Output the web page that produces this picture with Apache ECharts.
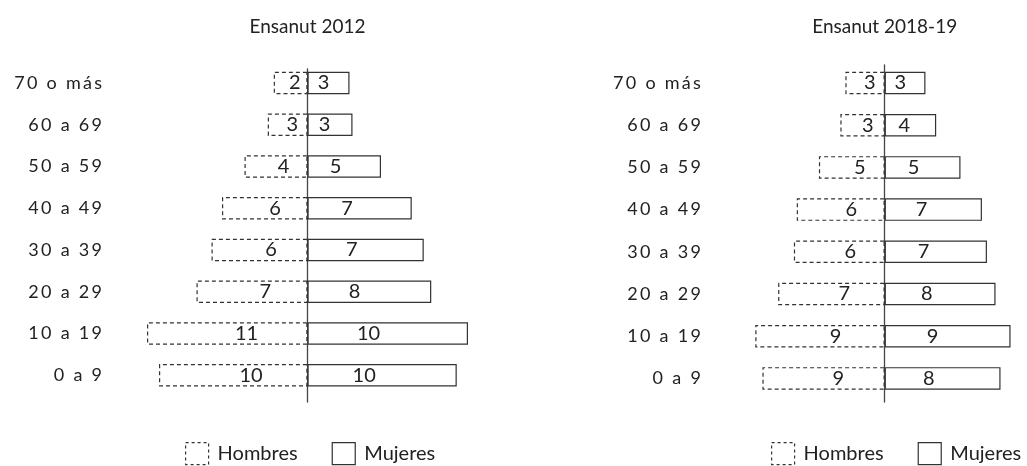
<!DOCTYPE html>
<html><head><meta charset="utf-8">
<script src="https://cdn.jsdelivr.net/npm/echarts@6/dist/echarts.min.js"></script>
<style>html,body{margin:0;padding:0;background:#fff}#c{width:1027px;height:466px}</style>
</head><body><div id="c"></div>
<script>
// ---- data ----
const categories = ['0 a 9','10 a 19','20 a 29','30 a 39','40 a 49','50 a 59','60 a 69','70 o más'];
const titles = ['Ensanut 2012','Ensanut 2018-19'];
const seriesNames = ['Hombres','Mujeres'];
const hombres2012 = [9.9, 10.7, 7.4, 6.4, 5.7, 4.2, 2.65, 2.25];
const mujeres2012 = [9.95, 10.7, 8.25, 7.75, 6.95, 4.9, 3.0, 2.8];
const hombres2012Labels = [10, 11, 7, 6, 6, 4, 3, 2];
const mujeres2012Labels = [10, 10, 8, 7, 7, 5, 3, 3];
const hombres2018 = [8.55, 9.05, 7.45, 6.35, 6.15, 4.6, 3.1, 2.75];
const mujeres2018 = [8.1, 8.8, 7.75, 7.15, 6.8, 5.3, 3.6, 2.85];
const hombres2018Labels = [9, 9, 7, 6, 6, 5, 3, 3];
const mujeres2018Labels = [8, 9, 8, 7, 7, 5, 4, 3];

// ---- layout / style ----
const FONT = 'Lato';
const TXT = '#222';
const EDGE = '#333';
const charts = [
  {title: titles[0], h: hombres2012, m: mujeres2012, hl: hombres2012Labels, ml: mujeres2012Labels,
   left: 142.5, width: 330, min: -11, max: 11, top: 62.1, height: 334, lineTop: 69, lineH: 333, margin: 40.5, center: 307.5, legendLeft: 185},
  {title: titles[1], h: hombres2018, m: mujeres2018, hl: hombres2018Labels, ml: mujeres2018Labels,
   left: 748.85, width: 271.7, min: -9.5, max: 9.5, top: 61.9, height: 337.6, lineTop: 65, lineH: 337, margin: 48, center: 884.7, legendLeft: 771}
];

function spaced(v){
  return v.split(' ').map(w => w.split('').join('\u2009')).join('  ');
}

const grid = [], xAxis = [], yAxis = [], series = [], title = [], legend = [];
charts.forEach((c, i) => {
  const g = grid.length;
  grid.push({left: c.left, width: c.width, top: c.top, height: c.height, containLabel: false});
  grid.push({left: c.left, width: c.width, top: c.lineTop, height: c.lineH, containLabel: false});
  xAxis.push({gridIndex: g, type: 'value', min: c.min, max: c.max, show: false});
  xAxis.push({gridIndex: g + 1, type: 'value', min: c.min, max: c.max, show: false});
  yAxis.push({gridIndex: g, type: 'category', data: categories,
    axisLine: {show: false}, axisTick: {show: false},
    axisLabel: {margin: c.margin, fontSize: 18, fontFamily: FONT, color: TXT, formatter: spaced}});
  yAxis.push({gridIndex: g + 1, type: 'value', min: 0, max: 1,
    axisLine: {show: true, onZero: true, lineStyle: {color: '#444', width: 1.3}},
    axisTick: {show: false}, axisLabel: {show: false}, splitLine: {show: false}});
  const labelBase = {show: true, align: 'center', verticalAlign: 'middle', fontSize: 20, fontFamily: FONT, color: TXT};
  series.push({
    name: seriesNames[0], type: 'bar', xAxisIndex: g, yAxisIndex: g,
    data: c.h.map(v => -v), barWidth: 22.5, barGap: '-100%',
    itemStyle: {color: '#fff', borderColor: EDGE, borderWidth: 1.2, borderType: [4, 3]},
    label: Object.assign({position: ['62%', '50%'], formatter: p => String(c.hl[p.dataIndex])}, labelBase),
    emphasis: {disabled: true}, animation: false
  });
  series.push({
    name: seriesNames[1], type: 'bar', xAxisIndex: g, yAxisIndex: g,
    data: c.m.slice(), barWidth: 22.5, barGap: '-100%',
    itemStyle: {color: '#fff', borderColor: EDGE, borderWidth: 1.2},
    label: Object.assign({position: ['38%', '50%'], formatter: p => String(c.ml[p.dataIndex])}, labelBase),
    emphasis: {disabled: true}, animation: false
  });
  title.push({text: c.title, left: c.center - 5, top: 12, textAlign: 'center',
    textStyle: {fontSize: 19, fontWeight: 'normal', fontFamily: FONT, color: TXT}});
  legend.push({left: c.legendLeft, top: 442, width: 320, padding: 0, itemWidth: 23, itemHeight: 22, itemGap: 34, icon: 'rect',
    selectedMode: false,
    textStyle: {fontSize: 20, fontFamily: FONT, color: TXT, padding: [0, 0, 0, 4]},
    data: [
      {name: seriesNames[0], itemStyle: {color: '#fff', borderColor: EDGE, borderWidth: 1.2, borderType: [3, 3]}},
      {name: seriesNames[1], itemStyle: {color: '#fff', borderColor: EDGE, borderWidth: 1.2}}
    ]});
});

const chart = echarts.init(document.getElementById('c'), null, {renderer: 'canvas'});
chart.setOption({
  backgroundColor: '#fff',
  animation: false,
  title, legend, grid, xAxis, yAxis, series
});
</script>
</body></html>
